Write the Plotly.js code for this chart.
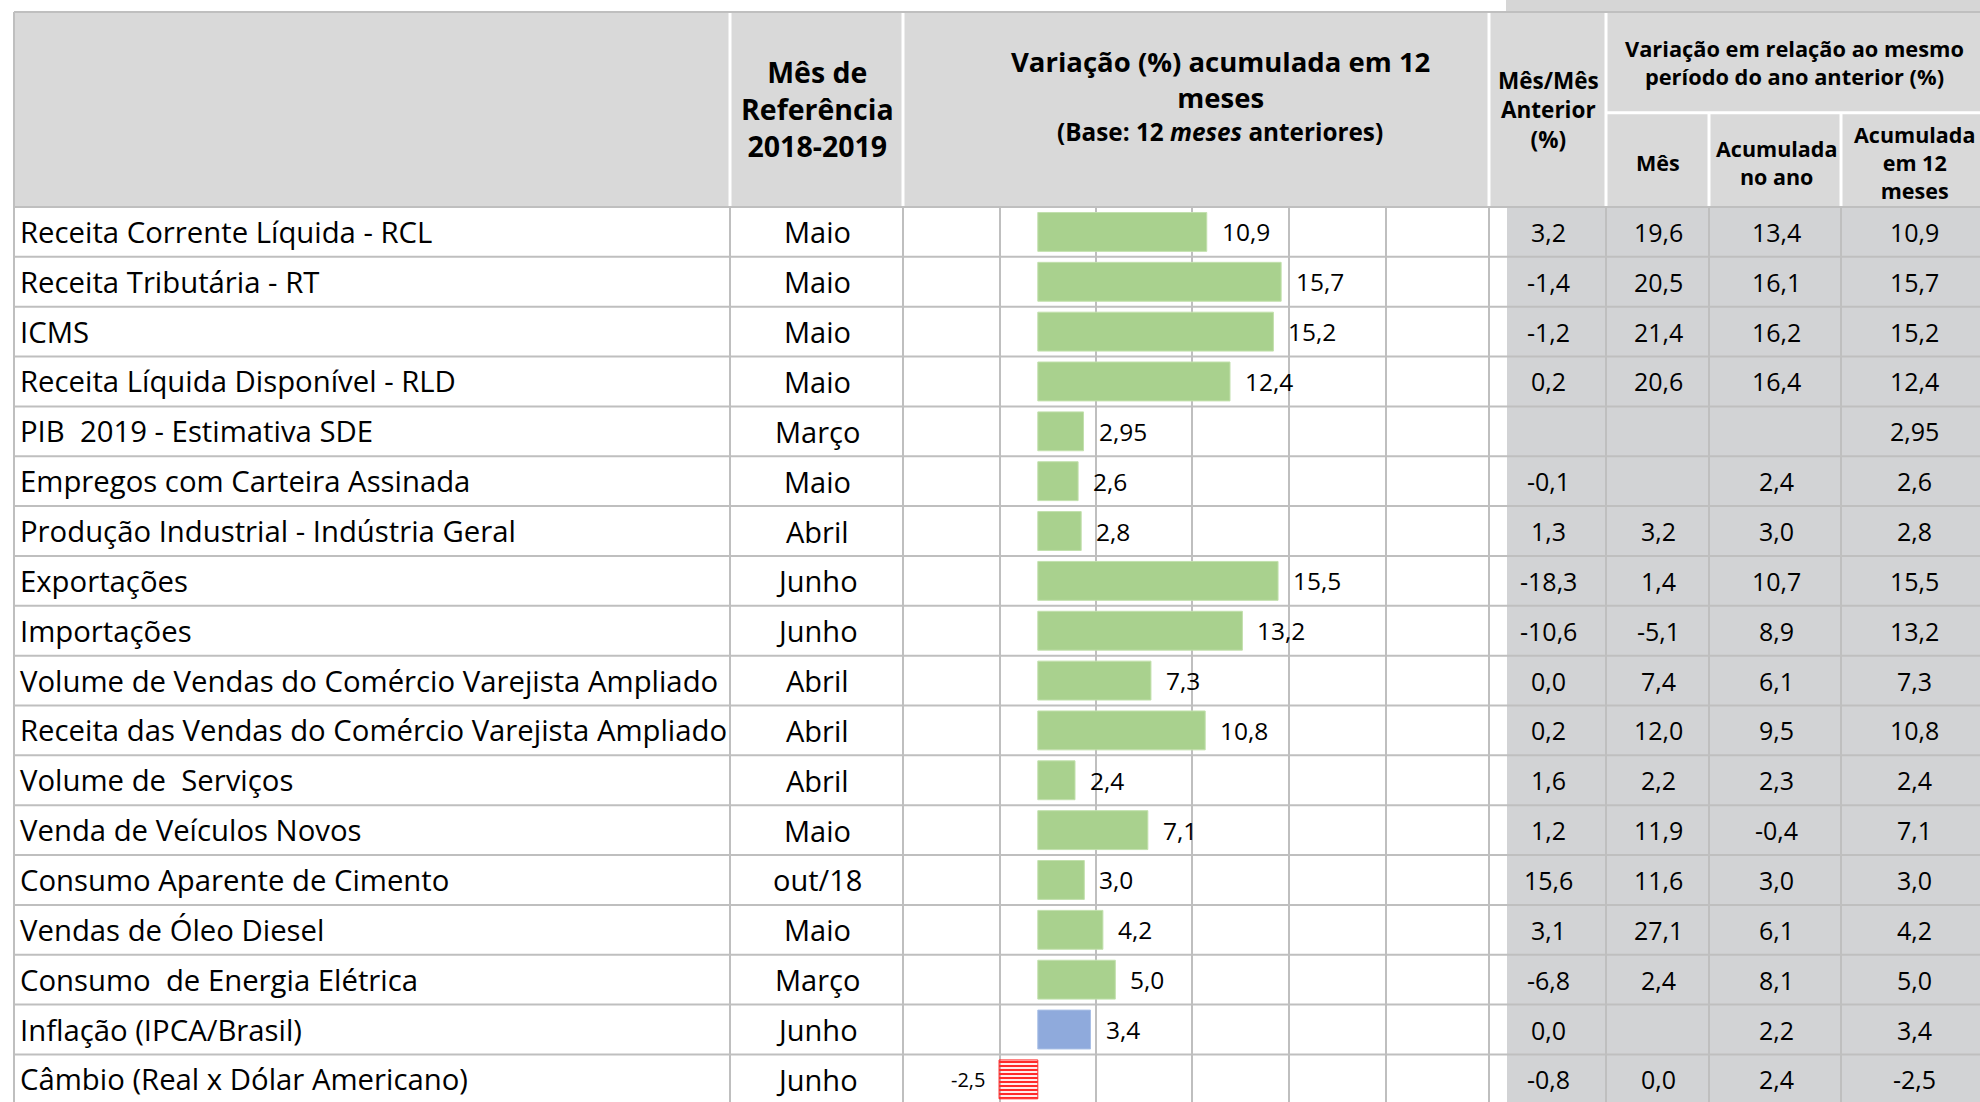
<!DOCTYPE html>
<html><head><meta charset="utf-8">
<script src="https://cdn.plot.ly/plotly-3.0.1.min.js"></script>
<style>html,body{margin:0;padding:0;background:#fff;overflow:hidden}#chart{width:1980px;height:1102px}</style>
</head><body><div id="chart"></div>
<script>
// ---------------- data ----------------
const indicators = [
  "Receita Corrente Líquida - RCL",
  "Receita Tributária - RT",
  "ICMS",
  "Receita Líquida Disponível - RLD",
  "PIB  2019 - Estimativa SDE",
  "Empregos com Carteira Assinada",
  "Produção Industrial - Indústria Geral",
  "Exportações",
  "Importações",
  "Volume de Vendas do Comércio Varejista Ampliado",
  "Receita das Vendas do Comércio Varejista Ampliado",
  "Volume de  Serviços",
  "Venda de Veículos Novos",
  "Consumo Aparente de Cimento",
  "Vendas de Óleo Diesel",
  "Consumo  de Energia Elétrica",
  "Inflação (IPCA/Brasil)",
  "Câmbio (Real x Dólar Americano)"
];
const refMonths = ["Maio","Maio","Maio","Maio","Março","Maio","Abril","Junho","Junho","Abril","Abril","Abril","Maio","out/18","Maio","Março","Junho","Junho"];
const var12m   = [10.9,15.7,15.2,12.4,2.95,2.6,2.8,15.5,13.2,7.3,10.8,2.4,7.1,3.0,4.2,5.0,3.4,-2.5];
const momPrev  = [3.2,-1.4,-1.2,0.2,null,-0.1,1.3,-18.3,-10.6,0.0,0.2,1.6,1.2,15.6,3.1,-6.8,0.0,-0.8];
const yoyMonth = [19.6,20.5,21.4,20.6,null,null,3.2,1.4,-5.1,7.4,12.0,2.2,11.9,11.6,27.1,2.4,null,0.0];
const yoyYear  = [13.4,16.1,16.2,16.4,null,2.4,3.0,10.7,8.9,6.1,9.5,2.3,-0.4,3.0,6.1,8.1,2.2,2.4];
const yoy12m   = [10.9,15.7,15.2,12.4,2.95,2.6,2.8,15.5,13.2,7.3,10.8,2.4,7.1,3.0,4.2,5.0,3.4,-2.5];
const inflationRow = "Inflação (IPCA/Brasil)";

const headerRef   = "Mês de<br>Referência<br>2018-2019";
const headerVar   = "Variação (%) acumulada em 12<br>meses";
const headerBase  = "(Base: 12 <i>meses</i> anteriores)";
const headerMoM   = "Mês/Mês<br>Anterior<br>(%)";
const headerYoY   = "Variação em relação ao mesmo<br>período do ano anterior (%)";
const headerSub   = ["Mês", "Acumulada<br>no ano", "Acumulada<br>em 12<br>meses"];

// ---------------- layout constants ----------------
const W = 1980, H = 1102;
const TOP = 12, HEAD_BOT = 207, ROW_H = 49.85, LEFT = 14;
const COL = {name: 730, month: 903, chartEnd: 1489, grayStart: 1507, c1: 1606, c2: 1709, c3: 1841};
const chartSub = [1000, 1096, 1192, 1289, 1386];
const ZERO_PX = 1037.8, PX_PER_UNIT = 15.5;
const FONT = '"Open Sans", Lato, sans-serif';
const GRID = '#bfbfbf', HEAD_BG = '#d9d9d9', CELL_BG = '#d2d3d5';

const px = x => x / W;
const py = y => 1 - y / H;
const n = indicators.length;
const fmt = v => v === null || v === undefined ? '' :
  (Math.abs(Math.round(v * 100)) % 10 !== 0 ? v.toFixed(2) : v.toFixed(1)).replace('.', ',');
const disp = s => s.replace(/  /g, ' \u00a0');

// ---------------- bar trace ----------------
const barColor = indicators.map((nm, i) => var12m[i] < 0 ? '#ff2a2a' : (nm === inflationRow ? '#8faadc' : '#a9d18e'));
const barLine  = indicators.map((nm, i) => var12m[i] < 0 ? '#ff2a2a' : (nm === inflationRow ? '#a9bfe6' : '#c2e0ad'));
const barPat   = var12m.map(v => v < 0 ? '-' : '');

const trace = {
  type: 'bar', orientation: 'h',
  x: var12m, y: indicators,
  width: 0.78,
  marker: {
    color: barColor,
    line: {color: barLine, width: 1},
    pattern: {shape: barPat, fillmode: 'replace', bgcolor: '#ffd0d0', size: 4, solidity: 0.55}
  },
  hoverinfo: 'none', showlegend: false
};

// ---------------- shapes (cell grid) ----------------
const shapes = [];
const rect = (x0, y0, x1, y1, fill) => shapes.push({type: 'rect', xref: 'paper', yref: 'paper', layer: 'below',
  x0: px(x0), x1: px(x1), y0: py(y0), y1: py(y1), fillcolor: fill, line: {width: 0}});
const line = (x0, y0, x1, y1, color, w) => shapes.push({type: 'line', xref: 'paper', yref: 'paper', layer: 'below',
  x0: px(x0), x1: px(x1), y0: py(y0), y1: py(y1), line: {color: color, width: w}});

rect(COL.grayStart - 1, 0, W, TOP, '#d6d6d6');
rect(LEFT, TOP, W, HEAD_BOT, HEAD_BG);
rect(COL.grayStart, HEAD_BOT, W, H, CELL_BG);
// header inner white dividers
[COL.name, COL.month, COL.chartEnd, COL.c1].forEach(x => line(x, TOP + 1, x, HEAD_BOT - 1, '#ffffff', 3));
const SUB_Y = 112.7;
line(COL.c1, SUB_Y, W, SUB_Y, '#ffffff', 3);
[COL.c2, COL.c3].forEach(x => line(x, SUB_Y, x, HEAD_BOT - 1, '#ffffff', 3));
// outer borders
line(LEFT, TOP, W, TOP, GRID, 2);
line(LEFT, TOP, LEFT, H, GRID, 2);
// row lines
for (let k = 0; k <= n; k++) {
  const y = HEAD_BOT + k * ROW_H;
  if (y <= H) line(LEFT, y, W, y, GRID, 2);
}
// body vertical lines
[COL.name, COL.month, ...chartSub, COL.chartEnd, COL.c1, COL.c2, COL.c3].forEach(x => line(x, HEAD_BOT, x, H, GRID, 2));

// ---------------- annotations ----------------
const ann = [];
const ROW_FONT = 29.3;
const txt = (text, x, y, opts) => ann.push(Object.assign({
  text: text, x: x, y: y, xref: 'paper', yref: 'paper', showarrow: false,
  xanchor: 'center', yanchor: 'middle', font: {family: FONT, size: ROW_FONT, color: '#000'}
}, opts || {}));

// header
const hb = (size) => ({family: FONT, size: size, color: '#000', weight: 700});
txt(headerRef, px(817), py(109), {font: hb(28.5)});
txt(headerVar, px(1220), py(79.5), {font: hb(27.5)});
txt(headerBase, px(1220), py(131), {font: hb(24.3)});
txt(headerMoM, px(1548), py(110), {font: hb(22.5)});
txt(headerYoY, px(1794), py(62.5), {font: hb(21.8)});
const subX = [1658, 1776, 1914];
headerSub.forEach((t, j) => txt(t, px(subX[j]), py(162), {font: hb(21.5)}));

// rows
const numCols = [[momPrev, 1548], [yoyMonth, 1658], [yoyYear, 1776], [yoy12m, 1914]];
for (let i = 0; i < n; i++) {
  txt(disp(indicators[i]), px(18), i, {yref: 'y', xanchor: 'left'});
  txt(refMonths[i], px(817), i, {yref: 'y', font: {family: FONT, size: 29, color: '#000'}});
  numCols.forEach(([arr, x]) => {
    const s = fmt(arr[i]);
    if (s) txt(s, px(x), i, {yref: 'y', font: {family: FONT, size: 25, color: '#000'}});
  });
  const v = var12m[i];
  if (v >= 0) {
    txt(fmt(v), v, i, {xref: 'x', yref: 'y', xanchor: 'left', xshift: 13, font: {family: FONT, size: 24.5, color: '#000'}});
  } else {
    txt(fmt(v), v, i, {xref: 'x', yref: 'y', xanchor: 'right', xshift: -12, font: {family: FONT, size: 20, color: '#000'}});
  }
}

// ---------------- layout ----------------
const yTop = (0 - HEAD_BOT) / ROW_H - 0.5;
const yBot = (H - HEAD_BOT) / ROW_H - 0.5;
const layout = {
  width: W, height: H,
  margin: {l: 0, r: 0, t: 0, b: 0, pad: 0},
  paper_bgcolor: '#ffffff', plot_bgcolor: 'rgba(0,0,0,0)',
  showlegend: false,
  xaxis: {domain: [px(COL.month), px(COL.chartEnd)],
          range: [-(ZERO_PX - COL.month) / PX_PER_UNIT, (COL.chartEnd - ZERO_PX) / PX_PER_UNIT],
          visible: false, fixedrange: true},
  yaxis: {type: 'category', categoryorder: 'array', categoryarray: indicators,
          domain: [0, 1], range: [yBot, yTop], visible: false, fixedrange: true},
  shapes: shapes, annotations: ann,
  font: {family: FONT}
};

Plotly.newPlot('chart', [trace], layout, {displayModeBar: false, staticPlot: true});
</script>
</body></html>
